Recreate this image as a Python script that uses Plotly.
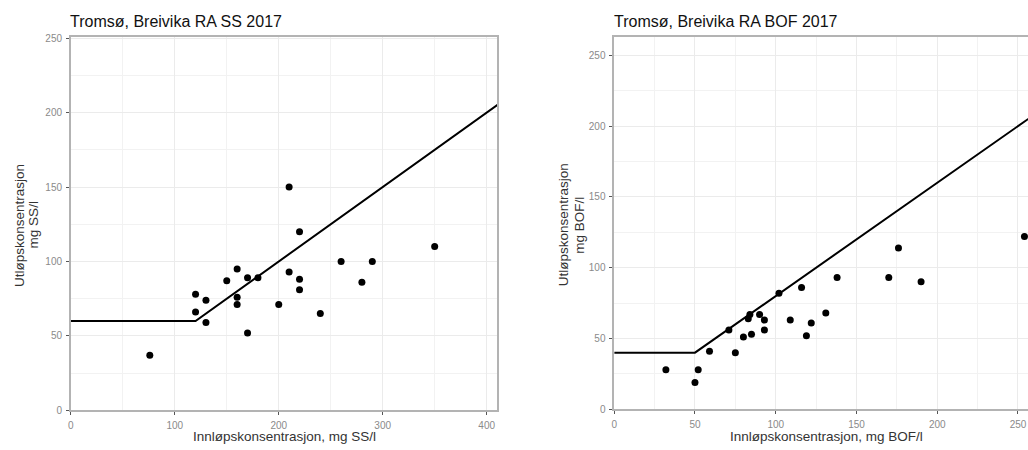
import plotly.graph_objects as go

# --- Suspended solids (SS), inlet vs outlet concentration, mg/l ---
ss_inlet = [76, 120, 120, 130, 130, 150, 160, 160, 160, 170, 170, 180,
            200, 210, 210, 220, 220, 220, 240, 260, 280, 290, 350]
ss_outlet = [37, 78, 66, 74, 59, 87, 95, 76, 71, 89, 52, 89,
             71, 150, 93, 120, 88, 81, 65, 100, 86, 100, 110]

# --- BOD (BOF), inlet vs outlet concentration, mg/l ---
bof_inlet = [32, 50, 52, 59, 71, 75, 80, 83, 84, 85, 90, 93, 93, 102,
             109, 116, 119, 122, 131, 138, 170, 176, 190, 254]
bof_outlet = [28, 19, 28, 41, 56, 40, 51, 64, 67, 53, 67, 63, 56, 82,
              63, 86, 52, 61, 68, 93, 93, 114, 90, 122]

# Discharge requirement: outlet <= max(minimum limit, (1 - reduction) * inlet)
ss_min_limit, ss_reduction = 60, 0.50
bof_min_limit, bof_reduction = 40, 0.20


def requirement_line(min_limit, reduction, x_end):
    slope = 1 - reduction
    x_break = min_limit / slope
    xs = [0, x_break, x_end]
    ys = [max(min_limit, slope * x) for x in xs]
    return xs, ys


ss_req_x, ss_req_y = requirement_line(ss_min_limit, ss_reduction, 420)
bof_req_x, bof_req_y = requirement_line(bof_min_limit, bof_reduction, 280)

W, H = 1028, 450
FONT = "Liberation Sans, Arial, sans-serif"

fig = go.Figure()

fig.add_trace(go.Scatter(x=ss_req_x, y=ss_req_y, mode="lines",
                         line=dict(color="black", width=2),
                         xaxis="x", yaxis="y", showlegend=False))
fig.add_trace(go.Scatter(x=ss_inlet, y=ss_outlet, mode="markers",
                         marker=dict(color="black", size=7),
                         xaxis="x", yaxis="y", showlegend=False))
fig.add_trace(go.Scatter(x=bof_req_x, y=bof_req_y, mode="lines",
                         line=dict(color="black", width=2),
                         xaxis="x2", yaxis="y2", showlegend=False))
fig.add_trace(go.Scatter(x=bof_inlet, y=bof_outlet, mode="markers",
                         marker=dict(color="black", size=7),
                         xaxis="x2", yaxis="y2", showlegend=False))

grid = "#ebebeb"
minor_grid = "#f2f2f2"
border = "#b3b3b3"
tickfont = dict(family=FONT, size=10, color="#8a8a8a")


def axis(domain, rng, dtick, minor_dtick, anchor, mirror=True):
    return dict(
        domain=domain, range=rng, dtick=dtick, tick0=0, anchor=anchor,
        showgrid=True, gridcolor=grid, gridwidth=1,
        minor=dict(dtick=minor_dtick, tick0=0, showgrid=True,
                   gridcolor=minor_grid, gridwidth=0.6, ticks=""),
        showline=True, linecolor=border, linewidth=1.5, mirror=mirror,
        ticks="outside", ticklen=3, tickwidth=1, tickcolor="#555555",
        tickfont=tickfont, zeroline=False, fixedrange=True,
        ticklabelstandoff=2,
    )


left_dom = [68 / W, 495.5 / W]
left_ydom = [(H - 415.5) / H, (H - 34) / H]
right_dom = [613 / W, 1.0]
right_ydom = [(H - 414.5) / H, (H - 34) / H]

fig.update_layout(
    width=W, height=H,
    margin=dict(l=0, r=0, t=0, b=0),
    paper_bgcolor="white", plot_bgcolor="white",
    font=dict(family=FONT),
    xaxis=axis(left_dom, [0, 410], 100, 50, "y"),
    yaxis=axis(left_ydom, [0, 250.7], 50, 25, "x"),
    xaxis2=axis(right_dom, [0, 256.2], 50, 25, "y2"),
    # the right panel runs off the page edge, so only its left side is framed
    yaxis2=axis(right_ydom, [0, 262.8], 50, 25, "x2", mirror=False),
)

title_font = dict(family=FONT, size=16, color="#111111")
label_font = dict(family=FONT, size=13.5, color="#333333")

annotations = [
    dict(text="Tromsø, Breivika RA SS 2017", x=66 / W, y=(H - 18) / H,
         xanchor="left", yanchor="middle", font=title_font),
    dict(text="Tromsø, Breivika RA BOF 2017", x=612 / W, y=(H - 18) / H,
         xanchor="left", yanchor="middle", font=title_font),
    dict(text="Innløpskonsentrasjon, mg SS/l", x=282 / W, y=(H - 442.5) / H,
         xanchor="center", yanchor="middle", font=label_font),
    dict(text="Innløpskonsentrasjon, mg BOF/l", x=826 / W, y=(H - 442.5) / H,
         xanchor="center", yanchor="middle", font=label_font),
    dict(text="Utløpskonsentrasjon", x=17 / W, y=(H - 226) / H, textangle=-90,
         xanchor="center", yanchor="middle", font=label_font),
    dict(text="mg SS/l", x=31.5 / W, y=(H - 226) / H, textangle=-90,
         xanchor="center", yanchor="middle", font=label_font),
    dict(text="Utløpskonsentrasjon", x=563 / W, y=(H - 226) / H, textangle=-90,
         xanchor="center", yanchor="middle", font=label_font),
    dict(text="mg BOF/l", x=578.5 / W, y=(H - 226) / H, textangle=-90,
         xanchor="center", yanchor="middle", font=label_font),
]
for a in annotations:
    a.update(xref="paper", yref="paper", showarrow=False, borderpad=0)
fig.update_layout(annotations=annotations)

fig.write_html("out.html")
